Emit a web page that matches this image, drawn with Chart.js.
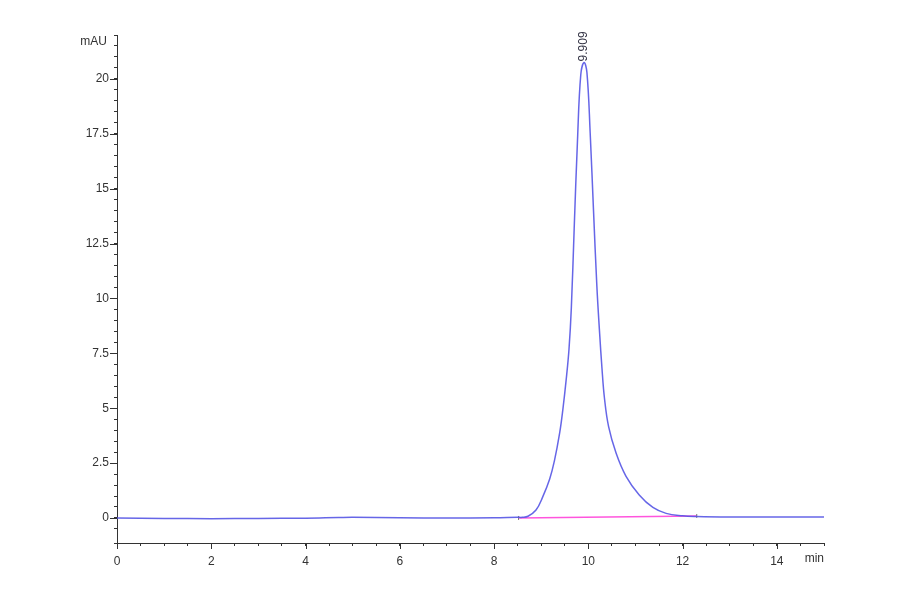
<!DOCTYPE html>
<html>
<head>
<meta charset="utf-8">
<script src="https://cdn.jsdelivr.net/npm/chart.js@4.4.1/dist/chart.umd.min.js"></script>
<style>
  body { margin: 0; background: #fff; }
  canvas { display: block; }
</style>
</head>
<body>
<canvas id="chrom" width="900" height="594"></canvas>
<script>
// signal trace (min, mAU)
const retentionTimes = [0, 1, 2, 3, 4, 4.7, 5, 6, 7, 8, 8.5, 8.6, 8.72, 8.89, 9.03, 9.18, 9.28, 9.39, 9.46, 9.53, 9.59, 9.64, 9.70, 9.77, 9.84, 9.909, 9.97, 10.04, 10.11, 10.18, 10.24, 10.29, 10.34, 10.43, 10.59, 10.80, 11.08, 11.37, 11.65, 12.0, 12.3, 13, 14, 15];
const absorbance = [0, -0.02, -0.03, -0.02, -0.01, 0.02, 0.03, 0.01, 0, 0.01, 0.03, 0.03, 0.08, 0.36, 0.95, 1.78, 2.6, 3.85, 4.95, 6.3, 7.7, 9.6, 13.2, 17.2, 20.2, 20.75, 20.3, 17.5, 14.0, 10.6, 8.4, 6.8, 5.5, 4.16, 2.95, 1.9, 1.05, 0.48, 0.21, 0.1, 0.07, 0.05, 0.05, 0.04];

// integration baseline
const baselineTimes = [8.52, 12.3];
const baselineValues = [0, 0.09];

// peak annotation
const peakTime = 9.909;
const peakLabel = '9.909';

// axis ticks
const xMajorTicks = [0, 2, 4, 6, 8, 10, 12, 14];
const yMajorTicks = [0, 2.5, 5, 7.5, 10, 12.5, 15, 17.5, 20];
const xUnit = 'min';
const yUnit = 'mAU';

const axisColor = '#333';
const font = { family: 'Liberation Sans, Arial, sans-serif', size: 12 };

function isMajor(list, v) {
    return list.some(m => Math.abs(m - v) < 1e-6);
}

// longer marks for the labelled ticks, units and the peak label
const decorations = {
    id: 'decorations',
    afterDraw(chart) {
        const ctx = chart.ctx;
        const xs = chart.scales.x;
        const ys = chart.scales.y;
        const area = chart.chartArea;
        ctx.save();
        ctx.strokeStyle = axisColor;
        ctx.lineWidth = 1;
        ctx.beginPath();
        yMajorTicks.forEach(v => {
            const py = Math.round(ys.getPixelForValue(v)) + 0.5;
            ctx.moveTo(area.left - 7, py);
            ctx.lineTo(area.left, py);
        });
        xMajorTicks.forEach(v => {
            const px = Math.round(xs.getPixelForValue(v)) + 0.5;
            ctx.moveTo(px, area.bottom);
            ctx.lineTo(px, area.bottom + 6);
        });
        ctx.stroke();

        ctx.fillStyle = axisColor;
        ctx.font = `${font.size}px ${font.family}`;
        ctx.textAlign = 'right';
        ctx.textBaseline = 'middle';
        ctx.fillText(yUnit, area.left - 10, area.top + 7);
        ctx.fillText(xUnit, area.right, area.bottom + 16);

        // peak label, rotated
        const idx = retentionTimes.indexOf(peakTime);
        const px = xs.getPixelForValue(peakTime);
        const py = ys.getPixelForValue(absorbance[idx]);
        ctx.translate(px, py - 1);
        ctx.rotate(-Math.PI / 2);
        ctx.textAlign = 'left';
        ctx.fillStyle = '#334';
        ctx.fillText(peakLabel, 0, 0);
        ctx.restore();
    }
};

new Chart(document.getElementById('chrom'), {
    type: 'line',
    data: {
        datasets: [{
            data: retentionTimes.map((t, i) => ({ x: t, y: absorbance[i] })),
            borderColor: 'rgba(85, 85, 228, 0.9)',
            borderWidth: 1.5,
            pointRadius: 0,
            tension: 0.4,
            fill: false
        }, {
            data: baselineTimes.map((t, i) => ({ x: t, y: baselineValues[i] })),
            borderColor: '#ff55dd',
            borderWidth: 1.5,
            pointStyle: 'line',
            rotation: 90,
            pointRadius: 2,
            pointBorderColor: '#777',
            pointBorderWidth: 1,
            fill: false
        }]
    },
    options: {
        responsive: false,
        animation: false,
        devicePixelRatio: 1,
        layout: { padding: { top: 35, right: 76, left: 0, bottom: 0 } },
        plugins: { legend: { display: false }, tooltip: { enabled: false } },
        scales: {
            x: {
                type: 'linear',
                min: 0,
                max: 15,
                afterFit: s => { s.height = 51; },
                border: { color: axisColor, width: 1 },
                grid: { drawOnChartArea: false, tickLength: 3, color: axisColor },
                ticks: {
                    stepSize: 0.5,
                    autoSkip: false,
                    maxRotation: 0,
                    padding: 8,
                    color: axisColor,
                    font: font,
                    callback: v => isMajor(xMajorTicks, v) ? String(v) : ''
                }
            },
            y: {
                type: 'linear',
                min: -1.14,
                max: 22,
                afterFit: s => { s.width = 117; },
                border: { color: axisColor, width: 1 },
                grid: { drawOnChartArea: false, tickLength: 3, color: axisColor },
                ticks: {
                    stepSize: 0.5,
                    autoSkip: false,
                    padding: 5,
                    color: axisColor,
                    font: font,
                    callback: v => isMajor(yMajorTicks, v) ? String(v) : ''
                }
            }
        }
    },
    plugins: [decorations]
});
</script>
</body>
</html>
